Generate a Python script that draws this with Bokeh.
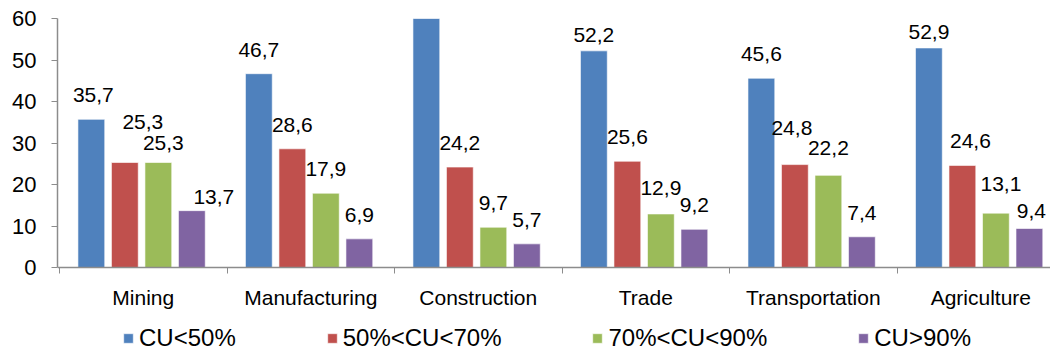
from bokeh.plotting import figure
from bokeh.models import ColumnDataSource, Range1d, FixedTicker, Legend, LegendItem
from bokeh.embed import file_html
from bokeh.resources import INLINE
from bokeh.core.properties import value

# Share of firms by capacity utilisation (CU) band, per sector (%)
sectors = ["Mining", "Manufacturing", "Construction", "Trade", "Transportation", "Agriculture"]
series_names = ["CU<50%", "50%<CU<70%", "70%<CU<90%", "CU>90%"]
cu_below_50 = [35.7, 46.7, 61.0, 52.2, 45.6, 52.9]
cu_50_70 = [25.3, 28.6, 24.2, 25.6, 24.8, 24.6]
cu_70_90 = [25.3, 17.9, 9.7, 12.9, 22.2, 13.1]
cu_above_90 = [13.7, 6.9, 5.7, 9.2, 7.4, 9.4]
y_ticks = [0, 10, 20, 30, 40, 50, 60]

series_values = [cu_below_50, cu_50_70, cu_70_90, cu_above_90]
colors = ["#4F81BD", "#C0504D", "#9BBB59", "#8064A2"]
dodge = [-0.31, -0.11, 0.09, 0.29]
bar_width = 0.16
Y_MAX = 60
LABEL_GAP = 24  # px between bar top and label

# layout of the canvas (px): plot band above the category axis, room below it
W, H = 1050, 352
TOP, LEFT = 18, 57
BAND = 249           # height of 0..Y_MAX
BELOW = H - TOP - BAND
y_start = -Y_MAX * BELOW / BAND

# hand-placed labels moved to avoid overlaps or the top edge: (sector, series) -> (dx px, extra lift px)
label_nudge = {
    (0, 0): (2, 0), (0, 1): (18, 17), (0, 2): (5, -4), (0, 3): (22, -10),
    (3, 0): (0, -8), (5, 0): (0, -8),
    (4, 1): (-3, 13), (4, 2): (0, 3),
    (5, 1): (8, 0), (5, 2): (5, 5), (5, 3): (2, -7),
    (3, 2): (0, 2),
}

FONT = "Liberation Sans"
AXIS_GREY = "#8C8C8C"

p = figure(width=W, height=H, output_backend="svg", toolbar_location=None,
           x_range=Range1d(-0.012, 5.916), y_range=Range1d(y_start, Y_MAX),
           min_border_left=LEFT, min_border_right=0, min_border_top=TOP, min_border_bottom=0)
p.outline_line_color = None
p.xgrid.visible = False
p.ygrid.visible = False
p.background_fill_color = "white"
p.border_fill_color = "white"

renderers = []
for s, (vals, col) in enumerate(zip(series_values, colors)):
    xs = [i + 0.5 + dodge[s] for i in range(len(sectors))]
    src = ColumnDataSource(dict(x=xs, top=vals))
    r = p.vbar(x="x", top="top", bottom=0, width=bar_width, source=src, fill_color=col,
               line_color="white", line_alpha=0.6, line_width=1)
    renderers.append(r)

    lx, ly, lt, dxs, dys = [], [], [], [], []
    for i, v in enumerate(vals):
        if v > Y_MAX:
            continue
        dx, lift = label_nudge.get((i, s), (0, 0))
        lx.append(xs[i])
        ly.append(v)
        lt.append(f"{v:.1f}".replace(".", ","))
        dxs.append(dx)
        dys.append(-LABEL_GAP - lift)
    lsrc = ColumnDataSource(dict(x=lx, y=ly, t=lt, dx=dxs, dy=dys))
    p.text(x="x", y="y", text="t", x_offset="dx", y_offset="dy", source=lsrc,
           text_align="center", text_baseline="alphabetic",
           text_font=value(FONT), text_font_size="21px", text_color="black")

# y axis, drawn only over 0..Y_MAX
p.yaxis.ticker = FixedTicker(ticks=y_ticks)
p.yaxis.bounds = (0, Y_MAX)
p.yaxis.major_label_text_font = FONT
p.yaxis.major_label_text_font_size = "22px"
p.yaxis.major_label_text_color = "black"
p.yaxis.axis_line_color = AXIS_GREY
p.yaxis.axis_line_width = 1.5
p.yaxis.major_tick_line_color = AXIS_GREY
p.yaxis.major_tick_out = 6
p.yaxis.major_tick_in = 0
p.yaxis.minor_tick_line_color = None
p.yaxis.major_label_standoff = 15

# category axis sits at y = 0: labels at sector centres, tick marks at sector boundaries
centers = [i + 0.5 for i in range(len(sectors))]
p.xaxis.fixed_location = 0
p.xaxis.ticker = FixedTicker(ticks=centers, minor_ticks=list(range(len(sectors) + 1)))
p.xaxis.major_label_overrides = {c: name for c, name in zip(centers, sectors)}
p.xaxis.major_label_text_font = FONT
p.xaxis.major_label_text_font_size = "21px"
p.xaxis.major_label_text_color = "black"
p.xaxis.axis_line_color = AXIS_GREY
p.xaxis.axis_line_width = 1.5
p.xaxis.major_tick_line_color = None
p.xaxis.major_tick_out = 6
p.xaxis.major_tick_in = 0
p.xaxis.minor_tick_line_color = AXIS_GREY
p.xaxis.minor_tick_out = 6
p.xaxis.minor_tick_in = 0
p.xaxis.major_label_standoff = 12

legend = Legend(
    items=[LegendItem(label=n, renderers=[r]) for n, r in zip(series_names, renderers)],
    orientation="horizontal", location=(65, 0),
    glyph_width=12, glyph_height=12, label_standoff=5, spacing=90,
    padding=0, margin=0, border_line_color=None, background_fill_alpha=0,
    label_text_font=FONT, label_text_font_size="24px", label_text_color="black",
)
p.add_layout(legend)

with open("out.html", "w") as f:
    f.write(file_html(p, INLINE))
